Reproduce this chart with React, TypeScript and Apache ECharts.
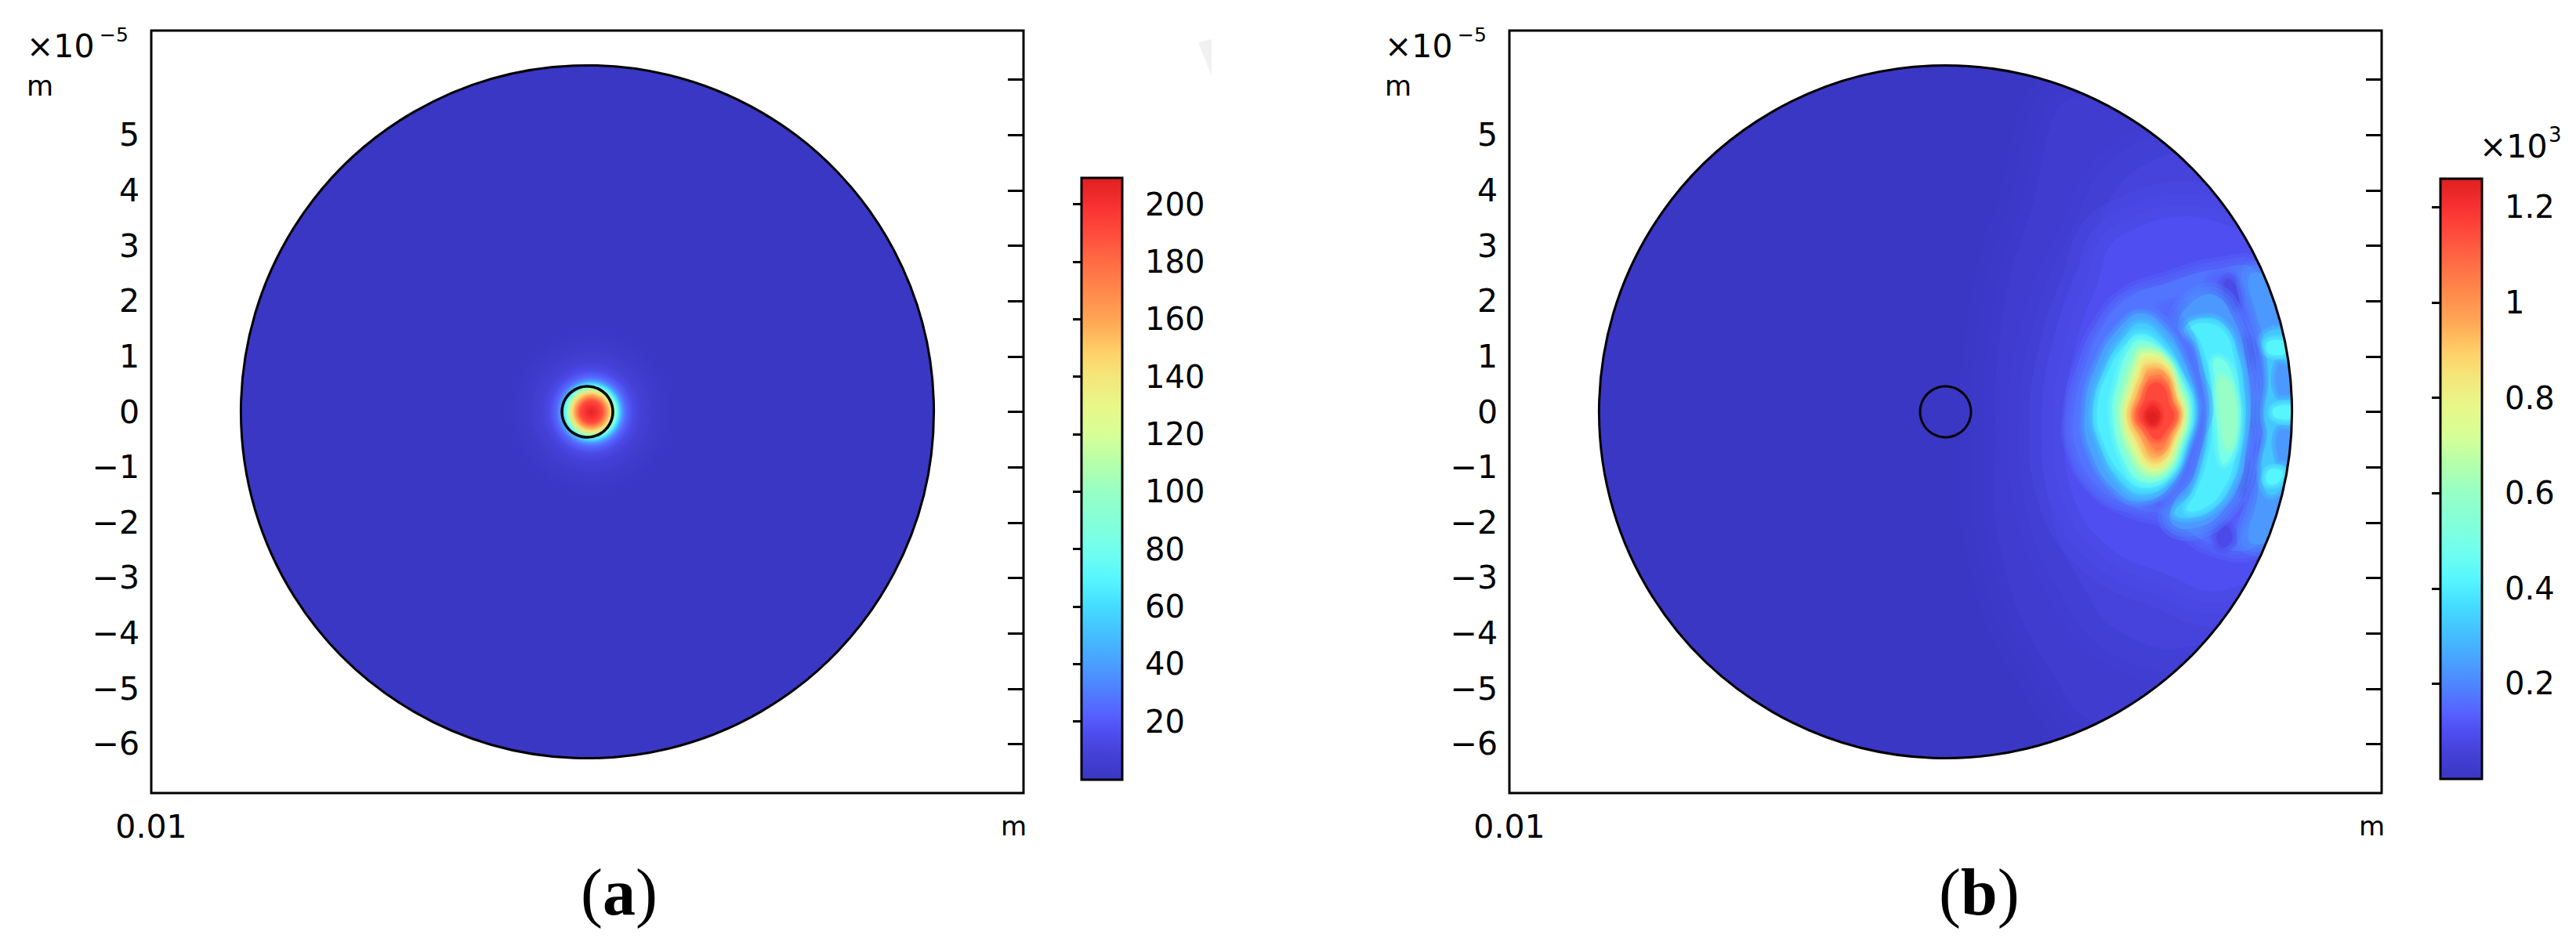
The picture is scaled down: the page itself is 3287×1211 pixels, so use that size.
import React, { useEffect, useRef } from "react";
import * as echarts from "echarts";

// ---- axis data (y and x in units of 1e-5 m around the disc centre)
const Y_TICKS = [-6, -5, -4, -3, -2, -1, 0, 1, 2, 3, 4, 5, 6];
const Y_LABELS = [-6, -5, -4, -3, -2, -1, 0, 1, 2, 3, 4, 5];
const BAR_A_TICKS = [20, 40, 60, 80, 100, 120, 140, 160, 180, 200];
const BAR_B_TICKS = [0.2, 0.4, 0.6, 0.8, 1, 1.2];
const DISC = [0, 0, 6.26];
const INNER = [0, 0, 0.46];

// colour table: [fraction of the range, colour]
const COLOR_STOPS: [number, string][] = [
  [0, "#3A37C4"], [0.04, "#4340D6"], [0.08, "#4F4EF0"], [0.11, "#5662FF"], [0.15, "#4F80FF"],
  [0.19, "#4A9DFF"], [0.24, "#44BEFF"], [0.29, "#45DDFF"], [0.33, "#55F5FF"], [0.38, "#70FFEE"],
  [0.43, "#85FFD8"], [0.48, "#98FFC4"], [0.53, "#B8FFA8"], [0.57, "#D6FF98"], [0.62, "#E8F888"],
  [0.67, "#F4E67A"], [0.71, "#FFD06A"], [0.76, "#FFA855"], [0.81, "#FF8A4C"], [0.86, "#FF6C44"],
  [0.91, "#FF4A3C"], [0.95, "#F93232"], [1, "#DF2020"],
];

// panel (a): radial field profile, [radius, value]
const PROFILE_A: [number, number][] = [
  [0, 207], [0.1, 200], [0.2, 190], [0.28, 165], [0.35, 142], [0.42, 105], [0.46, 82], [0.5, 62],
  [0.56, 38], [0.63, 24], [0.75, 14], [0.9, 8], [1.1, 4], [1.4, 1], [1.6, 0],
];
const PEAK_A = [0.07, 0];
const RANGE_A = [-0.3, 209.2];
const RANGE_B = [0, 1.26];

// panel (b): iso-value outlines of the field, in painting order
const HAZE_30 = [[2.5,5.7],[1.5,3.5],[1.0,1.5],[0.9,-0.5],[1.0,-2.5],[1.8,-4.5],[3,-5.6],[6.7,-3],[6.7,3]];
const HAZE_60 = [[3.5,4.4],[2.6,3.0],[2.0,1.5],[1.75,0],[1.9,-1.8],[2.4,-3],[3.2,-4.0],[4.6,-4.2],[6.8,-3],[6.8,3],[5,4.5]];
const HAZE_100 = [[3.2,3.2],[2.7,2.2],[2.3,1.0],[2.15,-0.2],[2.3,-1.5],[2.9,-2.4],[3.9,-2.9],[5.1,-3.2],[6.8,-2],[6.8,2],[5,3.4]];
const HALO_170 = [[3.31,2.07],[3.92,2.30],[4.96,2.59],[5.62,2.54],[6.28,1.03],[6.38,-0.06],[6.28,-1.33],[5.62,-2.41],[4.86,-2.41],[4.01,-1.90],[3.35,-1.71],[2.74,-1.33],[2.36,-0.67],[2.32,-0.01],[2.51,0.79],[2.84,1.55]];
const VALLEY_1 = [[4.01,1.83],[4.49,1.69],[4.77,1.03],[4.86,0.08],[4.77,-0.67],[4.58,-1.33],[4.01,-1.71],[3.73,-1.57],[3.92,0.08],[3.73,1.50]];
const VALLEY_2 = [[4.96,2.40],[5.34,2.02],[5.52,1.26],[5.67,0.56],[5.76,-0.06],[5.67,-0.67],[5.57,-1.33],[5.24,-1.99],[4.96,-2.32],[4.77,-1.80],[5.15,-0.01],[4.77,1.74]];
const SPOT_TOP = [[5.1,2.4],[5.3,2.15],[5.2,1.85],[5.02,2.1]];
const SPOT_UPPER = [[5.4,1.35],[5.55,1.05],[5.42,0.75],[5.3,1.05]];
const SPOT_MID = [[5.53,0.15],[5.72,-0.08],[5.53,-0.3],[5.42,-0.08]];
const SPOT_LOWER = [[5.38,-0.9],[5.52,-1.15],[5.38,-1.45],[5.25,-1.15]];
const SPOT_BOTTOM = [[5.05,-2.05],[5.18,-2.3],[5.0,-2.45],[4.9,-2.25]];
const EDGE_230 = [[5.48,2.44],[5.62,1.74],[5.76,1.26],[5.83,0.56],[5.74,-0.01],[5.83,-0.62],[5.69,-1.14],[5.62,-1.61],[5.48,-2.32],[5.81,-2.32],[6.51,-0.86],[6.51,1.03],[5.81,2.44]];
const EDGE_320 = [[5.74,1.36],[6.14,1.45],[6.28,0.93],[5.95,0.93],[5.95,0.27],[6.33,0.18],[6.33,-0.20],[5.95,-0.29],[5.95,-0.91],[6.14,-1.0],[6.04,-1.42],[5.81,-1.47],[5.71,-1.0],[5.81,-0.39],[5.76,-0.06],[5.83,0.46],[5.81,0.93]];
const EDGE_420_TOP = [[5.83,1.26],[6.14,1.26],[6.18,1.08],[5.85,1.05]];
const EDGE_420_MID = [[5.95,0.08],[6.33,0.08],[6.33,-0.10],[5.95,-0.10]];
const EDGE_420_BOT = [[5.85,-1.05],[6.09,-1.09],[6.0,-1.28],[5.81,-1.28]];
const ARC_230 = [[4.20,1.50],[4.39,1.92],[4.86,2.11],[5.24,1.60],[5.43,0.93],[5.52,0.08],[5.43,-0.67],[5.34,-1.24],[5.00,-1.80],[4.58,-2.08],[4.11,-2.04],[4.11,-1.66],[4.44,-1.24],[4.60,-0.76],[4.72,-0.10],[4.60,0.65],[4.49,1.17]];
const ARC_330 = [[4.30,1.48],[4.58,1.68],[5.0,1.6],[5.28,1.05],[5.40,0.37],[5.42,-0.15],[5.34,-0.76],[5.2,-1.26],[4.86,-1.74],[4.39,-1.92],[4.14,-1.82],[4.45,-1.45],[4.62,-1.0],[4.75,-0.39],[4.75,0.27],[4.66,0.79],[4.52,1.22]];
const ARC_400 = [[4.42,1.52],[4.72,1.6],[5.04,1.44],[5.22,0.95],[5.32,0.27],[5.32,-0.29],[5.2,-0.95],[5.04,-1.36],[4.74,-1.7],[4.36,-1.78],[4.52,-1.47],[4.72,-0.9],[4.82,-0.15],[4.8,0.56],[4.66,1.12],[4.52,1.41]];
const ARC_500 = [[4.86,0.95],[5.10,0.85],[5.25,0.27],[5.28,-0.29],[5.17,-0.78],[5.0,-0.92],[4.9,-0.15],[4.88,0.5]];
const ARC_600 = [[4.96,0.62],[5.18,0.42],[5.24,-0.29],[5.10,-0.66],[4.98,-0.15]];
const BLOB_170 = [[3.45,2.02],[3.92,1.78],[4.30,1.31],[4.44,0.75],[4.63,0.08],[4.49,-0.39],[4.25,-1.05],[3.87,-1.52],[3.35,-1.61],[2.79,-1.33],[2.41,-0.67],[2.36,-0.01],[2.60,0.84],[2.98,1.60]];
const BLOB_250 = [[3.54,1.78],[3.97,1.5],[4.29,0.98],[4.52,0.27],[4.55,-0.01],[4.36,-0.7],[4.07,-1.34],[3.56,-1.62],[3.07,-1.42],[2.62,-0.72],[2.52,0.04],[2.76,0.92],[3.17,1.55]];
const BLOB_330 = [[3.54,1.6],[3.94,1.32],[4.25,0.8],[4.49,0.1],[4.36,-0.6],[4.06,-1.22],[3.58,-1.5],[3.15,-1.26],[2.8,-0.62],[2.67,0.04],[2.9,0.82],[3.22,1.35]];
const BLOB_400 = [[3.53,1.42],[3.9,1.18],[4.22,0.68],[4.45,0.08],[4.32,-0.55],[4.04,-1.18],[3.58,-1.38],[3.2,-1.14],[2.85,-0.55],[2.74,0.04],[2.95,0.75],[3.24,1.2]];
const BLOB_500 = [[3.52,1.30],[3.90,1.1],[4.26,0.55],[4.41,0.02],[4.27,-0.58],[4.01,-1.13],[3.60,-1.27],[3.28,-1.0],[3.02,-0.08],[3.12,0.6],[3.3,1.1]];
const BLOB_620 = [[3.55,1.17],[3.93,1.02],[4.22,0.47],[4.36,-0.03],[4.22,-0.6],[3.99,-1.06],[3.64,-1.17],[3.35,-0.85],[3.13,-0.08],[3.22,0.5],[3.40,0.98]];
const BLOB_750 = [[3.58,1.05],[3.95,0.93],[4.18,0.4],[4.31,-0.05],[4.17,-0.55],[3.96,-0.98],[3.68,-1.05],[3.42,-0.72],[3.23,-0.1],[3.33,0.42],[3.47,0.85]];
const BLOB_850 = [[3.62,0.92],[3.95,0.83],[4.15,0.32],[4.26,-0.06],[4.12,-0.5],[3.94,-0.88],[3.70,-0.94],[3.48,-0.6],[3.29,-0.1],[3.38,0.32],[3.52,0.72]];
const BLOB_950 = [[3.66,0.78],[3.95,0.72],[4.12,0.25],[4.22,-0.06],[4.08,-0.45],[3.92,-0.78],[3.72,-0.82],[3.53,-0.48],[3.36,-0.1],[3.45,0.28],[3.58,0.6]];
const BLOB_1050 = [[3.71,0.65],[3.95,0.62],[4.10,0.2],[4.19,-0.07],[4.05,-0.4],[3.92,-0.66],[3.78,-0.68],[3.58,-0.38],[3.43,-0.08],[3.54,0.27],[3.62,0.5]];
const BLOB_1150 = [[3.72,0.5],[3.93,0.47],[4.05,0.13],[4.13,-0.07],[4.0,-0.33],[3.82,-0.5],[3.62,-0.3],[3.48,-0.08],[3.58,0.2]];
const BLOB_1220 = [[3.73,0.13],[3.87,-0.01],[3.78,-0.25],[3.61,-0.08]];
const BLOB_1260 = [[3.74,-0.01],[3.82,-0.08],[3.74,-0.20],[3.66,-0.08]];
const CONTOURS_B: [number, number[][]][] = [
  [30, HAZE_30], [60, HAZE_60], [100, HAZE_100], [170, HALO_170], [125, VALLEY_1], [130, VALLEY_2],
  [85, SPOT_TOP], [85, SPOT_UPPER], [85, SPOT_MID], [85, SPOT_LOWER], [85, SPOT_BOTTOM], [230, EDGE_230],
  [320, EDGE_320], [420, EDGE_420_TOP], [420, EDGE_420_MID], [420, EDGE_420_BOT],
  [230, ARC_230], [330, ARC_330], [400, ARC_400], [500, ARC_500], [600, ARC_600],
  [170, BLOB_170], [250, BLOB_250], [330, BLOB_330], [400, BLOB_400], [500, BLOB_500], [620, BLOB_620],
  [750, BLOB_750], [850, BLOB_850], [950, BLOB_950], [1050, BLOB_1050], [1150, BLOB_1150], [1220, BLOB_1220], [1260, BLOB_1260],
];

const FONT = "DejaVu Sans";

function hex(c: string) { return [1, 3, 5].map((i) => parseInt(c.slice(i, i + 2), 16)); }
function colorAt(f: number) {
  const v = Math.max(0, Math.min(1, f));
  for (let i = 1; i < COLOR_STOPS.length; i++) {
    const [f1, c1] = COLOR_STOPS[i];
    const [f0, c0] = COLOR_STOPS[i - 1];
    if (v <= f1) {
      const t = (v - f0) / (f1 - f0);
      const a = hex(c0), b = hex(c1);
      return `rgb(${a.map((x, k) => Math.round(x + (b[k] - x) * t)).join(",")})`;
    }
  }
  return COLOR_STOPS[COLOR_STOPS.length - 1][1];
}

function panelAxes(gi: number) {
  const common = { gridIndex: gi, type: "value" as const };
  const x = {
    ...common, min: -7.88, max: 7.88, axisLine: { show: false }, axisTick: { show: false }, splitLine: { show: false },
    axisLabel: { customValues: [-7.88], formatter: () => "0.01", fontFamily: FONT, fontSize: 41, color: "#000", margin: 22, showMinLabel: true },
  };
  const tickStyle = { show: true, inside: true, length: 20, customValues: Y_TICKS, lineStyle: { color: "#000", width: 3 } };
  const yl = {
    ...common, min: -6.885, max: 6.885, position: "left", axisLine: { show: false }, splitLine: { show: false }, axisTick: tickStyle,
    axisLabel: {
      customValues: Y_LABELS, fontFamily: FONT, fontSize: 41, color: "#000", margin: 15, padding: [6, 0, 0, 0],
      formatter: (v: number) => (v < 0 ? "\u2212" + Math.abs(v) : String(v)),
    },
  };
  const yr = { ...yl, position: "right", axisLabel: { show: false } };
  return { x, yl, yr };
}

function barAxes(gi: number, range: number[], ticks: number[]) {
  const x = { gridIndex: gi, type: "value" as const, min: 0, max: 1, show: false };
  const tickStyle = { show: true, inside: true, length: 11, customValues: ticks, lineStyle: { color: "#000", width: 3 } };
  const yr = {
    gridIndex: gi, type: "value" as const, min: range[0], max: range[1], position: "right", axisLine: { show: false }, splitLine: { show: false },
    axisTick: tickStyle,
    axisLabel: { customValues: ticks, fontFamily: FONT, fontSize: 40, color: "#000", margin: 29, padding: [4, 0, 0, 0] },
  };
  const yl = { ...yr, position: "left", axisLabel: { show: false } };
  return { x, yr, yl };
}

function discSeries(xi: number, yi: number, z: number, data: number[][], style: any) {
  return {
    type: "custom", xAxisIndex: xi, yAxisIndex: yi, z, silent: true, clip: false, data,
    renderItem: (_: any, api: any) => {
      const c = api.coord([api.value(0), api.value(1)]);
      const r = api.size([api.value(2), 0])[0];
      return { type: "circle", shape: { cx: c[0], cy: c[1], r }, style };
    },
  };
}

function barSeries(xi: number, yi: number, range: number[]) {
  const colorStops = COLOR_STOPS.map(([f, c]) => ({ offset: 1 - f, color: c })).reverse();
  return {
    type: "custom", xAxisIndex: xi, yAxisIndex: yi, z: 1, silent: true, data: [[0, range[0], 1, range[1]]],
    renderItem: (_: any, api: any) => {
      const a = api.coord([api.value(0), api.value(1)]);
      const b = api.coord([api.value(2), api.value(3)]);
      return {
        type: "rect", shape: { x: a[0], y: b[1], width: b[0] - a[0], height: a[1] - b[1] },
        style: { fill: { type: "linear", x: 0, y: 0, x2: 0, y2: 1, colorStops } },
      };
    },
  };
}

function text(t: string, x: number, baseline: number, fontSize: number) {
  return { type: "text", x, y: baseline - 0.86 * fontSize, silent: true, style: { text: t, fontFamily: FONT, fontSize, fill: "#000", align: "left" } };
}

function caption(letter: string, x: number, baseline: number) {
  const size = 84;
  const base = { fontFamily: "Liberation Serif", fontSize: size, fill: "#000" };
  return {
    type: "text", x, y: baseline - 0.86 * size, silent: true,
    style: {
      ...base,
      text: `{p|(}{b|${letter}}{p|)}`,
      rich: { p: { ...base }, b: { ...base, fontWeight: "bold" } },
    },
  };
}

function buildOption() {
  const grids = [
    { left: 193, top: 39, width: 1113, height: 973 },
    { left: 1926, top: 39, width: 1113, height: 973 },
    { left: 1380, top: 227, width: 52, height: 768 },
    { left: 3114, top: 228, width: 53, height: 766 },
  ].map((g) => ({ ...g, show: true, backgroundColor: "transparent", borderColor: "#000", borderWidth: 3, z: 5 }));

  const pa = panelAxes(0), pb = panelAxes(1);
  const ba = barAxes(2, RANGE_A, BAR_A_TICKS), bb = barAxes(3, RANGE_B, BAR_B_TICKS);
  const xAxis = [pa.x, pb.x, ba.x, bb.x];
  const yAxis = [pa.yl, pa.yr, pb.yl, pb.yr, ba.yr, ba.yl, bb.yr, bb.yl];

  const profileStops = PROFILE_A.map(([r, v]) => ({
    offset: r / PROFILE_A[PROFILE_A.length - 1][0],
    color: colorAt((v - RANGE_A[0]) / (RANGE_A[1] - RANGE_A[0])),
  }));
  const outer = PROFILE_A[PROFILE_A.length - 1][0];

  const series: any[] = [
    discSeries(0, 0, 1, [DISC], { fill: COLOR_STOPS[0][1] }),
    {
      type: "custom", xAxisIndex: 0, yAxisIndex: 0, z: 2, silent: true, clip: false, data: [[PEAK_A[0], PEAK_A[1], outer]],
      renderItem: (_: any, api: any) => {
        const c = api.coord([api.value(0), api.value(1)]);
        const r = api.size([api.value(2), 0])[0];
        return {
          type: "circle", shape: { cx: c[0], cy: c[1], r },
          style: { fill: { type: "radial", x: 0.5, y: 0.5, r: 0.5, colorStops: profileStops } },
        };
      },
    },
    discSeries(0, 0, 3, [DISC], { fill: "none", stroke: "#000", lineWidth: 3 }),
    discSeries(0, 0, 3, [INNER], { fill: "none", stroke: "#000", lineWidth: 3.5 }),

    discSeries(1, 2, 1, [DISC], { fill: COLOR_STOPS[0][1] }),
    {
      type: "custom", xAxisIndex: 1, yAxisIndex: 2, z: 2, silent: true, clip: false,
      data: CONTOURS_B.map((c, i) => [i, c[0]]),
      renderItem: (_: any, api: any) => {
        const item = CONTOURS_B[api.value(0)];
        const level = api.value(1);
        const pts = item[1].map((p) => api.coord(p));
        const c = api.coord([DISC[0], DISC[1]]);
        const r = api.size([DISC[2], 0])[0];
        const color = colorAt(level / (RANGE_B[1] * 1000));
        const spot = level === 85;
        const feather = spot ? 16 : level <= 100 ? 90 : level <= 230 ? 30 : 13;
        const clipPath = { type: "circle", shape: { cx: c[0], cy: c[1], r } };
        const shape = { points: pts, smooth: 0.45 };
        const soft = [1, 0.66, 0.33].map((k) => ({
          type: "polygon", shape, clipPath,
          style: { fill: "none", stroke: color, lineWidth: feather * k, strokeOpacity: 0.25, lineJoin: "round" },
        }));
        return {
          type: "group",
          children: [...soft, { type: "polygon", shape, clipPath, style: { fill: color } }],
        };
      },
    },
    discSeries(1, 2, 3, [DISC], { fill: "none", stroke: "#000", lineWidth: 3 }),
    discSeries(1, 2, 3, [INNER], { fill: "none", stroke: "#000", lineWidth: 3 }),

    barSeries(2, 4, RANGE_A),
    barSeries(3, 6, RANGE_B),
  ];

  const graphic = [
    text("\u00d710", 34, 74, 41), text("\u22125", 127, 53, 25), text("m", 34, 123, 35),
    text("\u00d710", 1767, 74, 41), text("\u22125", 1860, 53, 25), text("m", 1767, 123, 35),
    text("m", 1277, 1066, 34), text("m", 3010, 1066, 34),
    text("\u00d710", 3164, 202, 41), text("3", 3252, 181, 26),
    caption("a", 741, 1169),
    caption("b", 2474, 1169),
    { type: "polygon", silent: true, shape: { points: [[1529, 54], [1546, 50], [1546, 97]] }, style: { fill: "#f3f0f3" } },
  ];

  return { animation: false, backgroundColor: "#fff", grid: grids, xAxis, yAxis, series, graphic };
}

export default function App() {
  const ref = useRef<HTMLDivElement>(null);
  useEffect(() => {
    document.body.style.margin = "0";
    const chart = echarts.init(ref.current!, undefined, { renderer: "svg" });
    chart.setOption(buildOption() as any);
    return () => chart.dispose();
  }, []);
  return <div ref={ref} style={{ width: 3287, height: 1211 }} />;
}
